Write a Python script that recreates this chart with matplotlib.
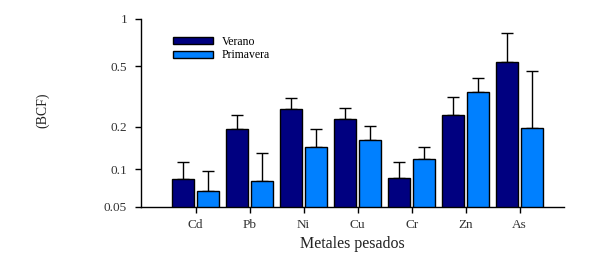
import numpy as np
import matplotlib
matplotlib.use("Agg")
import matplotlib.pyplot as plt

# ── Data (BCF per heavy metal, two seasons) ──────────────────────────────────
metals = ["Cd", "Pb", "Ni", "Cu", "Cr", "Zn", "As"]
verano = [0.085, 0.192, 0.262, 0.224, 0.086, 0.238, 0.529]
verano_err = [0.027, 0.046, 0.047, 0.041, 0.026, 0.076, 0.280]
primavera = [0.068, 0.082, 0.144, 0.161, 0.118, 0.338, 0.195]
primavera_err = [0.029, 0.049, 0.048, 0.042, 0.026, 0.079, 0.270]
yticks = [0.05, 0.1, 0.2, 0.5, 1]
ytick_labels = ["0.05", "0.1", "0.2", "0.5", "1"]

plt.rcParams["font.family"] = ["Liberation Serif", "DejaVu Serif"]

fig = plt.figure(figsize=(5.89, 2.56), dpi=100)
ax = fig.add_axes([141 / 589, 1 - 207 / 256, (564 - 141) / 589, (207 - 18.7) / 256])

x = np.arange(len(metals))
w = 0.41
off = 0.23

# compressed log axis (like the original software)
c = 0.02
ax.set_yscale("function", functions=(lambda v: np.log10(np.clip(v + c, 1e-9, None)),
                                     lambda y: 10 ** y - c))

ax.bar(x - off, verano, w, color="#000080", edgecolor="black", linewidth=1.0,
       label="Verano", zorder=2)
ax.bar(x + off, primavera, w, color="#0080FF", edgecolor="black", linewidth=1.0,
       label="Primavera", zorder=2)
ax.errorbar(x - off, verano, yerr=[np.zeros(len(x)), verano_err], fmt="none",
            ecolor="black", elinewidth=1.0, capsize=4, capthick=1.0, zorder=1)
ax.errorbar(x + off, primavera, yerr=[np.zeros(len(x)), primavera_err], fmt="none",
            ecolor="black", elinewidth=1.0, capsize=4, capthick=1.0, zorder=1)

ax.set_ylim(0.05, 1)
ax.set_xlim(-1.01, 6.82)
ax.set_yticks(yticks)
ax.set_yticklabels(ytick_labels)
ax.minorticks_off()
ax.set_xticks(x)
ax.set_xticklabels(metals)
ax.tick_params(axis="both", labelsize=9.5, direction="out", length=4, width=1.0,
               colors="black", labelcolor="#333333")
ax.tick_params(axis="x", pad=5)
ax.tick_params(axis="y", pad=6)

ax.spines["top"].set_visible(False)
ax.spines["right"].set_visible(False)
ax.spines["left"].set_linewidth(1.0)
ax.spines["bottom"].set_linewidth(1.0)

ax.set_xlabel("Metales pesados", fontsize=11.5, color="#222222", labelpad=3)
fig.text(43 / 589, 1 - 110 / 256, "(BCF)", rotation=90, ha="center", va="center",
         fontsize=10, color="#222222")

ax.legend(loc="upper left", bbox_to_anchor=(0.065, 0.935), frameon=False,
          fontsize=8.5, handlelength=3.4, handleheight=0.5, labelspacing=0.15,
          handletextpad=0.7, borderaxespad=0)

fig.savefig("out.png", dpi=100)
